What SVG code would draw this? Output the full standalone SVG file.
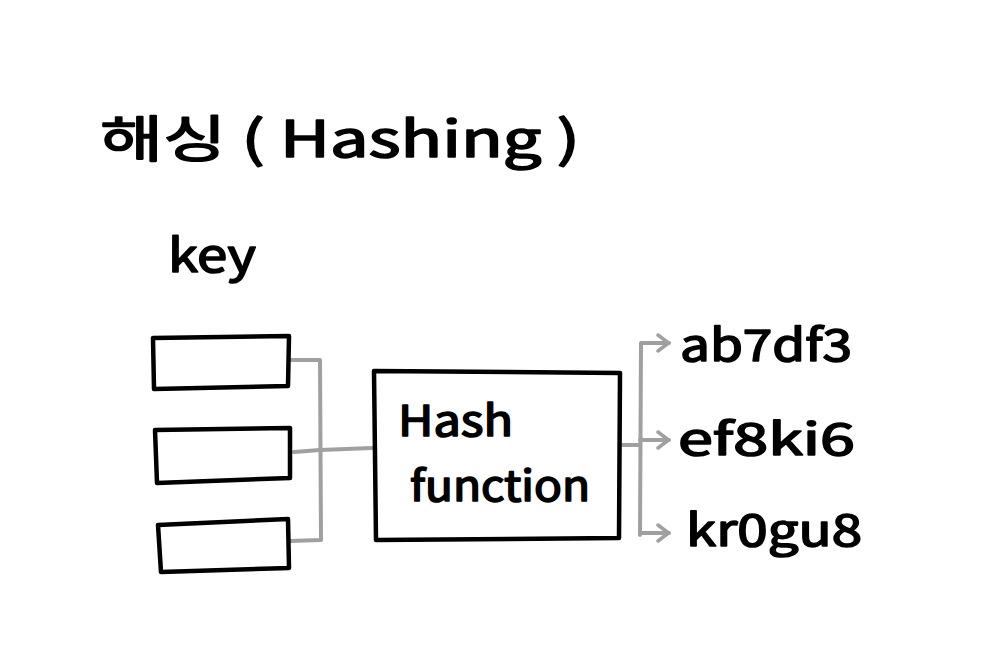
<svg xmlns="http://www.w3.org/2000/svg" width="985" height="668" viewBox="0 0 985 668">
<style>
.t{font-family:"Noto Sans CJK KR","Liberation Sans",sans-serif;fill:#000;stroke:#000;stroke-width:1.6;stroke-linejoin:round}
.box{fill:#fff;stroke:#000;stroke-width:4.5;stroke-linejoin:round}
.con{fill:none;stroke:#a0a0a0;stroke-width:4;stroke-linecap:round;stroke-linejoin:round}
</style>
<defs>
<marker id="arr" viewBox="0 0 14 20" refX="13" refY="10" markerWidth="14" markerHeight="20" markerUnits="userSpaceOnUse" orient="auto">
<path d="M2 2 L12.5 10 L2 18" fill="none" stroke="#a0a0a0" stroke-width="3.5" stroke-linecap="round" stroke-linejoin="round"/>
</marker>
</defs>
<rect width="985" height="668" fill="#fff"/>
<g id="title"><text class="t" x="100" y="157" font-size="50" textLength="480" lengthAdjust="spacingAndGlyphs">해싱 ( Hashing )</text></g>
<g id="key-label"><text class="t" x="168" y="272" font-size="46" textLength="88" lengthAdjust="spacingAndGlyphs">key</text></g>
<g id="connectors">
<path class="con" d="M290 360 L320 360 L321 540 L290 541"/>
<path class="con" d="M294 452 L320 450 L372 448"/>
<path class="con" d="M621 445 L640 445"/>
<path class="con" d="M640 535 L641 343 L669 343" marker-end="url(#arr)"/>
<path class="con" d="M640 440 L669 440" marker-end="url(#arr)"/>
<path class="con" d="M640 533 L669 533" marker-end="url(#arr)"/>
</g>
<g id="key1"><path class="box" d="M153 338 L289 336 L288 386 L154 389 Z"/></g>
<g id="key2"><path class="box" d="M155 430 L290 428 L290 478 L157 483 Z"/></g>
<g id="key3"><path class="box" d="M158 525 L288 519 L289 568 L161 572 Z"/></g>
<g id="hash">
<path class="box" d="M374 371 L620 373 L619 538 L376 540 Z"/>
<text class="t" x="398" y="436" font-size="42" textLength="115" lengthAdjust="spacingAndGlyphs">Hash</text>
<text class="t" x="410" y="501" font-size="42" textLength="180" lengthAdjust="spacingAndGlyphs">function</text>
</g>
<g id="out1"><text class="t" x="680" y="361" font-size="44" textLength="172" lengthAdjust="spacingAndGlyphs">ab7df3</text></g>
<g id="out2"><text class="t" x="678" y="455" font-size="44" textLength="177" lengthAdjust="spacingAndGlyphs">ef8ki6</text></g>
<g id="out3"><text class="t" x="686" y="546" font-size="44" textLength="176" lengthAdjust="spacingAndGlyphs">kr0gu8</text></g>
</svg>
